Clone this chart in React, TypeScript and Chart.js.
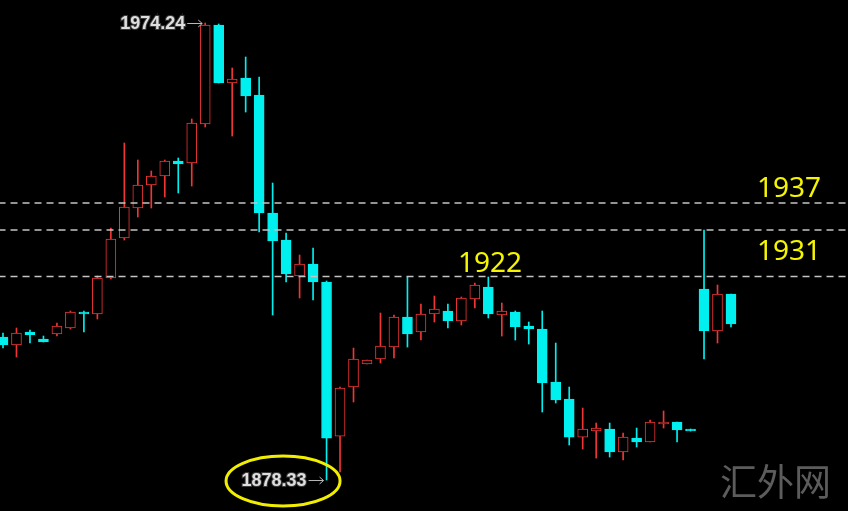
import React, { useEffect, useRef } from "react";
import { Chart, registerables } from "chart.js";

Chart.register(...registerables);

// Candle data (price), one entry per bar, left to right
const opens = [1908.34, 1906.66, 1909.39, 1907.92, 1908.97, 1910.23, 1913.59, 1913.17, 1920.73, 1929.12, 1935.42, 1940.24, 1942.13, 1945.28, 1944.86, 1953.05, 1973.82, 1961.65, 1962.70, 1959.13, 1934.37, 1928.70, 1921.15, 1923.66, 1919.89, 1887.56, 1897.85, 1902.68, 1903.73, 1906.24, 1912.54, 1909.39, 1913.17, 1913.80, 1911.70, 1916.32, 1918.84, 1912.96, 1913.59, 1910.65, 1910.02, 1898.90, 1895.33, 1887.35, 1888.61, 1889.03, 1884.21, 1887.14, 1886.31, 1890.08, 1890.50, 1889.03, 1918.42, 1909.60, 1917.37];
const highs = [1909.18, 1910.23, 1909.81, 1908.55, 1911.28, 1913.80, 1913.80, 1921.15, 1931.22, 1949.06, 1945.49, 1943.18, 1945.49, 1945.91, 1954.10, 1974.24, 1974.03, 1964.80, 1967.11, 1962.91, 1940.66, 1930.17, 1925.55, 1927.02, 1920.10, 1897.85, 1906.03, 1903.52, 1913.38, 1912.96, 1920.94, 1915.27, 1916.95, 1915.27, 1916.74, 1919.68, 1920.94, 1915.48, 1913.80, 1911.49, 1913.80, 1907.08, 1897.85, 1893.44, 1890.29, 1890.29, 1888.19, 1889.24, 1890.92, 1892.81, 1890.50, 1889.03, 1930.80, 1919.26, 1917.37];
const lows = [1906.03, 1904.15, 1907.08, 1907.29, 1908.55, 1910.02, 1909.39, 1912.12, 1920.52, 1928.70, 1933.53, 1935.42, 1937.73, 1938.57, 1940.03, 1952.42, 1961.65, 1950.53, 1955.56, 1930.38, 1912.96, 1919.89, 1916.53, 1916.11, 1878.33, 1880.01, 1894.70, 1902.68, 1902.89, 1903.94, 1906.24, 1907.71, 1911.49, 1910.23, 1910.86, 1914.43, 1912.33, 1908.55, 1907.71, 1906.87, 1892.60, 1894.49, 1885.68, 1884.84, 1882.95, 1883.16, 1882.53, 1885.26, 1886.31, 1889.24, 1886.31, 1888.61, 1903.73, 1907.08, 1910.44];
const closes = [1906.66, 1909.18, 1908.76, 1907.29, 1910.65, 1913.59, 1913.17, 1920.73, 1928.91, 1935.63, 1940.24, 1942.13, 1945.28, 1944.65, 1953.26, 1973.82, 1961.65, 1962.49, 1958.92, 1934.37, 1928.49, 1921.57, 1923.66, 1919.89, 1887.14, 1897.64, 1903.73, 1903.52, 1906.45, 1912.54, 1908.97, 1913.17, 1914.22, 1911.70, 1916.53, 1919.26, 1913.17, 1913.80, 1910.44, 1910.02, 1898.69, 1895.12, 1887.35, 1889.03, 1889.24, 1884.21, 1887.35, 1886.31, 1890.50, 1890.50, 1888.82, 1888.61, 1909.60, 1917.37, 1911.07];

// Horizontal key levels (drawn position) and their labels
const levelValues = [1936.47, 1930.8, 1921.04];
const levelLabels = ["1937", "1931", "1922"];
const highLabel = "1974.24";
const lowLabel = "1878.33";
const watermark = "汇外网";

const X_MIN = -0.2226;
const X_MAX = 62.68;
const Y_MIN = 1871.83;
const Y_MAX = 1979.07;

const UP = "#f03535";
const DOWN = "#00f0f0";

export default function App() {
  const ref = useRef<HTMLCanvasElement | null>(null);

  useEffect(() => {
    if (!ref.current) return;
    const idx = opens.map((_, i) => i);
    const isUp = idx.map((i) => closes[i] >= opens[i]);
    const colors = isUp.map((u) => (u ? UP : DOWN));

    const hiIdx = highs.indexOf(Math.max(...highs));
    const loIdx = lows.indexOf(Math.min(...lows));

    const overlay = {
      id: "overlay",
      afterDatasetsDraw(chart: any) {
        const ctx = chart.ctx as CanvasRenderingContext2D;
        const xs = chart.scales.x;
        const ys = chart.scales.y;
        ctx.save();
        // level labels
        ctx.fillStyle = "#f5f500";
        ctx.font = "28px 'Noto Sans', 'Open Sans', sans-serif";
        ctx.textAlign = "left";
        ctx.textBaseline = "alphabetic";
        const labelX = [55.93, 55.93, 33.75];
        const labelDy = [-6, 30, -4.5];
        levelValues.forEach((v, k) => {
          ctx.fillText(levelLabels[k], xs.getPixelForValue(labelX[k]), ys.getPixelForValue(v) + labelDy[k]);
        });

        const drawExtreme = (i: number, val: number, text: string) => {
          const px = xs.getPixelForValue(i);
          const py = ys.getPixelForValue(val);
          ctx.font = "bold 18px 'Liberation Sans', Arial, sans-serif";
          ctx.textAlign = "right";
          ctx.textBaseline = "middle";
          ctx.lineWidth = 2;
          ctx.strokeStyle = "#3a3a3a";
          ctx.strokeText(text, px - 20, py + 1);
          ctx.fillStyle = "#dedede";
          ctx.fillText(text, px - 20, py + 1);
          ctx.strokeStyle = "#b8b8b8";
          ctx.lineWidth = 1;
          ctx.beginPath();
          ctx.moveTo(px - 18, py + 0.5);
          ctx.lineTo(px - 3, py + 0.5);
          ctx.moveTo(px - 7, py - 3);
          ctx.lineTo(px - 3, py + 0.5);
          ctx.lineTo(px - 7, py + 4);
          ctx.stroke();
          return { px, py };
        };
        drawExtreme(hiIdx, highs[hiIdx], highLabel);
        const lo = drawExtreme(loIdx, lows[loIdx], lowLabel);
        // yellow ellipse around the low label
        ctx.strokeStyle = "#f2ee00";
        ctx.lineWidth = 3;
        ctx.beginPath();
        ctx.ellipse(lo.px - 43.5, lo.py + 1, 57, 25, 0, 0, Math.PI * 2);
        ctx.stroke();

        // watermark
        ctx.fillStyle = "#5c5c5c";
        ctx.font = "37px 'Noto Sans CJK SC', sans-serif";
        ctx.textAlign = "left";
        ctx.textBaseline = "alphabetic";
        ctx.fillText(watermark, 720, 496);
        ctx.restore();
      },
    };

    const lineSets = levelValues.map((v) => ({
      type: "line" as const,
      data: [
        { x: X_MIN - 1, y: v },
        { x: X_MAX + 1, y: v },
      ],
      borderColor: "#c4c4c4",
      borderWidth: 1.5,
      borderDash: [7, 5],
      pointRadius: 0,
      fill: false,
    }));

    const chart = new Chart(ref.current, {
      type: "bar",
      data: {
        datasets: [
          ...lineSets,
          {
            type: "bar",
            data: idx.map((i) => ({ x: i, y: [opens[i], closes[i]] })),
            backgroundColor: isUp.map((u) => (u ? "#000000" : DOWN)),
            borderColor: colors,
            borderWidth: 1,
            borderSkipped: false,
            barThickness: 10,
            minBarLength: 2,
            grouped: false,
          } as any,
          {
            type: "bar",
            data: idx.map((i) => ({ x: i, y: [lows[i], highs[i]] })),
            backgroundColor: colors,
            borderWidth: 0,
            barThickness: 1,
            grouped: false,
          } as any,
        ],
      },
      options: {
        responsive: false,
        animation: false,
        events: [],
        layout: { padding: 0 },
        plugins: { legend: { display: false }, tooltip: { enabled: false } },
        scales: {
          x: { type: "linear", min: X_MIN, max: X_MAX, offset: false, display: false },
          y: { type: "linear", min: Y_MIN, max: Y_MAX, display: false },
        },
      },
      plugins: [overlay],
    } as any);
    return () => chart.destroy();
  }, []);

  return (
    <div style={{ position: "fixed", left: 0, top: 0, width: 848, height: 511, background: "#000" }}>
      <canvas ref={ref} width={848} height={511} style={{ display: "block" }} />
    </div>
  );
}
